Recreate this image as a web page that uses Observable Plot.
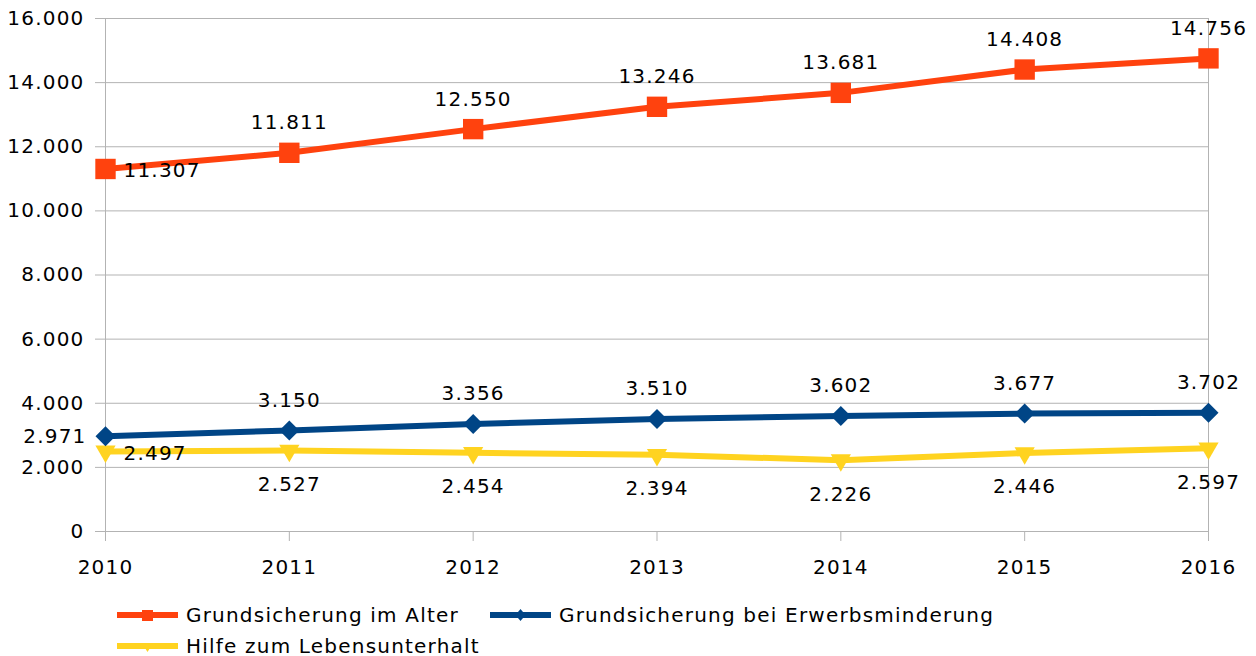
<!DOCTYPE html>
<html>
<head>
<meta charset="utf-8">
<script src="https://cdn.jsdelivr.net/npm/d3@7"></script>
<script src="https://cdn.jsdelivr.net/npm/@observablehq/plot@0.6"></script>
<style>
  html, body { margin: 0; padding: 0; background: #fff; }
  body { width: 1256px; height: 656px; overflow: hidden; font-family: "DejaVu Sans", sans-serif; }
  #chart svg { display: block; }
  #legend { position: relative; height: 60px; font-size: 20px; color: #000; letter-spacing: 1.2px; }
  .item { position: absolute; display: flex; align-items: center; height: 24px; line-height: 24px; }
  .item svg { display: block; margin-right: 8px; }
</style>
</head>
<body>
<div id="chart"></div>
<div id="legend"></div>
<script>
// ---- Data ----
const years = [2010, 2011, 2012, 2013, 2014, 2015, 2016];
const seriesNames = ["Grundsicherung im Alter", "Grundsicherung bei Erwerbsminderung", "Hilfe zum Lebensunterhalt"];
const alter = [11307, 11811, 12550, 13246, 13681, 14408, 14756];
const erwerbsminderung = [2971, 3150, 3356, 3510, 3602, 3677, 3702];
const lebensunterhalt = [2497, 2527, 2454, 2394, 2226, 2446, 2597];
const yTicks = [0, 2000, 4000, 6000, 8000, 10000, 12000, 14000, 16000];
const colors = ["#ff420e", "#004586", "#ffd320"];

// ---- Build table ----
const seriesValues = [alter, erwerbsminderung, lebensunterhalt];
const rows = [];
seriesValues.forEach((vals, s) => {
  vals.forEach((v, i) => rows.push({year: years[i], value: v, series: seriesNames[s], s, i}));
});

const de = d3.formatLocale({decimal: ",", thousands: ".", grouping: [3], currency: ["", " €"]});
const fmt = de.format(",d");

const font = "DejaVu Sans, sans-serif";
const W = 1256, H = 596;

const byS = s => rows.filter(d => d.s === s);
const symbols = ["square", "diamond2", "triangle"];
const radii = [11.5, 9, 7.5];
const rotations = [0, 0, 180];

const marks = [
  Plot.gridY(yTicks, {stroke: "#b3b3b3", strokeOpacity: 1}),
  Plot.frame({stroke: "#b3b3b3"}),
  Plot.axisY(yTicks, {tickSize: 10, tickPadding: 11, tickFormat: fmt, stroke: "#b3b3b3", fill: "#000", fontSize: 20, label: null}),
  Plot.axisX(years, {tickSize: 10, tickPadding: 18, tickFormat: d => String(d), stroke: "#b3b3b3", fill: "#000", fontSize: 20, label: null})
];

[0, 1, 2].forEach(s => {
  marks.push(Plot.lineY(byS(s), {x: "year", y: "value", stroke: colors[s], strokeWidth: 6}));
});
[2, 1, 0].forEach(s => {
  marks.push(Plot.dot(byS(s), {x: "year", y: "value", fill: colors[s], stroke: "none", symbol: () => symbols[s], r: radii[s], rotate: rotations[s]}));
});

// data labels
const labelCommon = {x: "year", y: "value", text: d => fmt(d.value), fill: "#000", fontSize: 20, fontFamily: font};
marks.push(Plot.text(rows.filter(d => d.s === 0 && d.i > 0), {...labelCommon, dy: -30}));
marks.push(Plot.text(rows.filter(d => d.s === 1 && d.i > 0), {...labelCommon, dy: -30}));
marks.push(Plot.text(rows.filter(d => d.s === 2 && d.i > 0), {...labelCommon, dy: 34}));
marks.push(Plot.text(rows.filter(d => (d.s === 0 || d.s === 2) && d.i === 0), {...labelCommon, textAnchor: "start", dx: 18, dy: 2}));
marks.push(Plot.text(rows.filter(d => d.s === 1 && d.i === 0), {...labelCommon, textAnchor: "end", dx: -19, dy: 0}));

const chart = Plot.plot({
  width: W,
  height: H,
  marginTop: 18,
  marginBottom: H - 531,
  marginLeft: 105,
  marginRight: 48,
  style: {fontFamily: font, fontSize: "20px", color: "#000", background: "#fff", overflow: "visible", letterSpacing: "1.2px"},
  x: {type: "linear", domain: [2010, 2016]},
  y: {domain: [0, 16000]},
  marks
});
document.getElementById("chart").appendChild(chart);

// ---- Legend ----
const legend = document.getElementById("legend");
const legendPos = [{left: 117, top: 7}, {left: 490, top: 7}, {left: 117, top: 38}];
const legendSym = ["square", "diamond", "triangle"];
seriesNames.forEach((name, s) => {
  const item = document.createElement("div");
  item.className = "item";
  item.style.left = legendPos[s].left + "px";
  item.style.top = legendPos[s].top + "px";
  const ns = "http://www.w3.org/2000/svg";
  const svg = document.createElementNS(ns, "svg");
  svg.setAttribute("width", 61);
  svg.setAttribute("height", 20);
  const line = document.createElementNS(ns, "line");
  line.setAttribute("x1", 0); line.setAttribute("x2", 61);
  line.setAttribute("y1", 10); line.setAttribute("y2", 10);
  line.setAttribute("stroke", colors[s]); line.setAttribute("stroke-width", 6);
  svg.appendChild(line);
  const p = document.createElementNS(ns, "path");
  let dpath;
  if (legendSym[s] === "square") dpath = "M25,5h11v11h-11z";
  else if (legendSym[s] === "diamond") dpath = "M30.5,4l5,6l-5,6l-5,-6z";
  else dpath = "M25,7h11l-5.5,9z";
  p.setAttribute("d", dpath);
  p.setAttribute("fill", colors[s]);
  svg.appendChild(p);
  item.appendChild(svg);
  const t = document.createElement("span");
  t.textContent = name;
  item.appendChild(t);
  legend.appendChild(item);
});
</script>
</body>
</html>
